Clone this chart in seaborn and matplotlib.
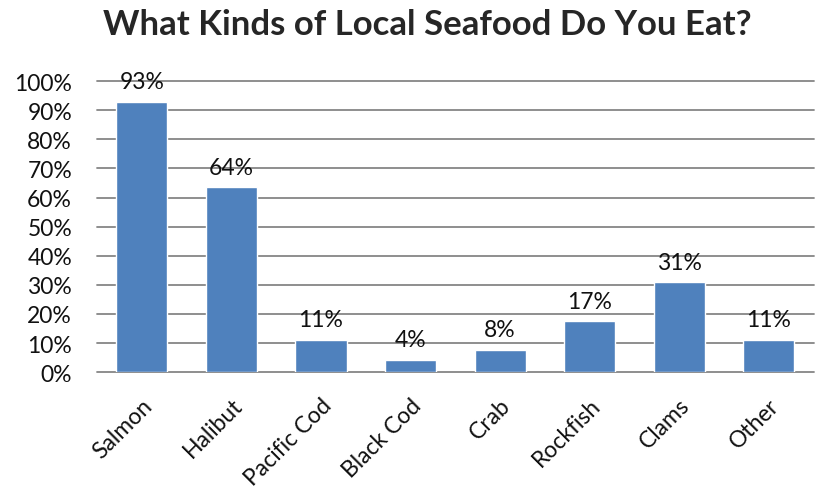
import matplotlib
matplotlib.use("Agg")
import matplotlib.pyplot as plt
import seaborn as sns
import pandas as pd
from matplotlib.ticker import PercentFormatter

categories = ["Salmon", "Halibut", "Pacific Cod", "Black Cod", "Crab", "Rockfish", "Clams", "Other"]
shares = [0.930, 0.635, 0.112, 0.043, 0.076, 0.174, 0.308, 0.112]
labels = ["93%", "64%", "11%", "4%", "8%", "17%", "31%", "11%"]

df = pd.DataFrame({"kind": categories, "share": shares})

sns.set_style("white")
plt.rcParams["font.family"] = ["Lato", "DejaVu Sans"]

fig = plt.figure(figsize=(8.16, 4.89), dpi=100)
ax = fig.add_axes([0.119, 0.237, 0.878, 0.595])

sns.barplot(data=df, x="kind", y="share", color="#4F81BD", width=0.57,
            saturation=1, ax=ax, zorder=3)

ax.set_ylim(0, 1.0)
ax.set_yticks([i / 10 for i in range(11)])
ax.yaxis.set_major_formatter(PercentFormatter(1.0, decimals=0))
ax.grid(axis="y", color="#868686", linewidth=1.3, zorder=0)
ax.grid(axis="x", visible=False)
for g in ax.get_ygridlines():
    g.set_clip_on(False)
for s in ax.spines.values():
    s.set_visible(False)

ax.tick_params(axis="y", length=0, pad=18, labelsize=16.5, labelcolor="#111111")
ax.tick_params(axis="x", length=0, pad=16, labelsize=16.5, labelcolor="#111111")
plt.setp(ax.get_xticklabels(), rotation=45, ha="right", rotation_mode="anchor")
ax.set_xlabel("")
ax.set_ylabel("")

for p, txt in zip(ax.patches, labels):
    ax.annotate(txt, (p.get_x() + p.get_width() / 2, p.get_height()),
                xytext=(0, 7), textcoords="offset points",
                ha="center", va="bottom", fontsize=16.5, color="#111111")

fig.suptitle("What Kinds of Local Seafood Do You Eat?", x=0.524, y=0.982,
             fontsize=25, fontweight="bold")

fig.savefig("out.png", dpi=100)
